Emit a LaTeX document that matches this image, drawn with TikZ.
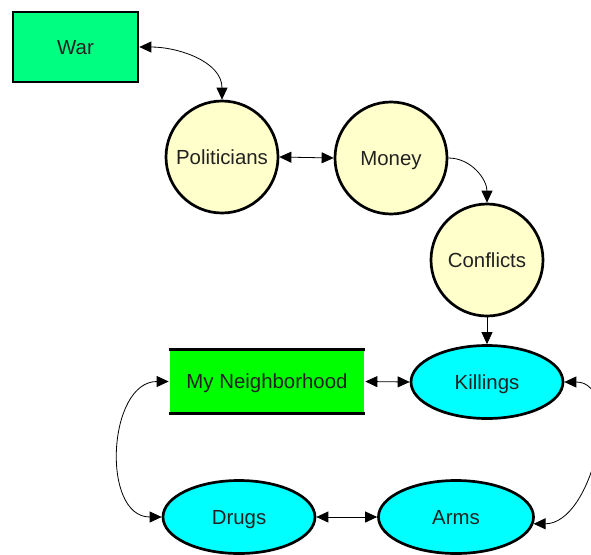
\documentclass[tikz,border=0pt]{standalone}
\usepackage{fontspec}
\setmainfont{Liberation Sans}
\usetikzlibrary{arrows.meta,shapes.geometric}
\definecolor{wargreen}{HTML}{00FF80}
\definecolor{nbgreen}{HTML}{00FF00}
\definecolor{paleyellow}{HTML}{FFFFCC}
\definecolor{aqua}{HTML}{00FFFF}
\definecolor{txt}{HTML}{222222}
\tikzset{
  base/.style={line width=2.7pt, draw=black, text=txt, font=\fontsize{20.4}{24}\selectfont, inner sep=0pt, text height=14.6pt, text depth=0pt},
  rbox/.style={base, rectangle, fill=wargreen, minimum width=125pt, minimum height=70pt},
  circ/.style={base, circle, fill=paleyellow, minimum size=112pt},
  ell/.style={base, ellipse, fill=aqua, minimum width=152pt, minimum height=73pt},
  nbox/.style={base, draw=none, rectangle, fill=nbgreen, minimum width=194pt, minimum height=61pt},
  conn/.style={line width=0.8pt, draw=black},
  tip/.tip={Triangle[length=12pt,width=11pt]},
  both/.style={conn, tip-tip},
  one/.style={conn, -tip}
}
\begin{document}
\begin{tikzpicture}[x=1pt,y=-1pt]
\useasboundingbox (0,0) rectangle (591,554);
\node[rbox] (war) at (75.5,47) {War};
\node[circ] (pol) at (222,157) {Politicians};
\node[circ] (mon) at (391,158) {Money};
\node[circ] (con) at (487,260) {Conflicts};
\node[ell] (kil) at (487,382) {Killings};
\node[nbox] (nb) at (267,381.5) {My Neighborhood};
\draw[line width=2.7pt] (nb.north west) -- (nb.north east);
\draw[line width=2.7pt] (nb.south west) -- (nb.south east);
\node[ell] (dru) at (239,517) {Drugs};
\node[ell, minimum width=155pt] (arm) at (456,517) {Arms};
\draw[both] (war.east) to[out=0,in=90] (pol.north);
\draw[both] (pol.east) -- (mon.west);
\draw[one] (mon.east) to[out=0,in=90] (con.north);
\draw[one] (con.south) -- (kil.north);
\draw[both] (nb.east) -- (kil.west);
\draw[both] (dru.east) -- (arm.west);
\draw[both] (kil.east) to[out=0,in=0,looseness=1.05] (arm.-5);
\draw[both] (nb.west) to[out=180,in=180,looseness=1.15] (dru.west);
\end{tikzpicture}
\end{document}
